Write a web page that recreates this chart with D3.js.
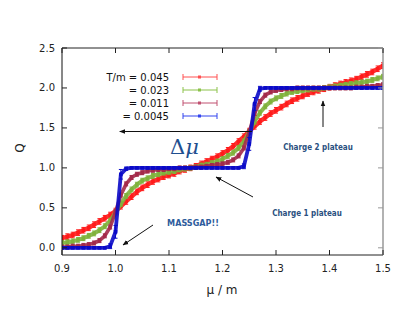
<!DOCTYPE html>
<html><head><meta charset="utf-8">
<script src="https://cdn.jsdelivr.net/npm/d3@7"></script>
<style>html,body{margin:0;padding:0;background:#fff;}svg{display:block;}</style>
</head><body>
<svg id="c" width="415" height="312"></svg>
<script>
// ---- data ----
const mu = d3.range(61).map(i => +(0.90 + i * 0.01).toFixed(2));
const qRed = [0.12,0.14,0.16,0.19,0.22,0.25,0.29,0.33,0.37,0.41,
  0.46,0.52,0.58,0.64,0.70,0.75,0.79,0.83,0.86,0.89,
  0.91,0.93,0.96,0.98,1.00,1.02,1.05,1.08,1.11,1.14,
  1.18,1.22,1.27,1.33,1.39,1.46,1.52,1.58,1.63,1.68,
  1.72,1.76,1.80,1.84,1.87,1.90,1.93,1.95,1.97,1.99,
  2.01,2.03,2.05,2.07,2.09,2.11,2.14,2.17,2.20,2.24,2.28];
const qGreen = [0.06,0.07,0.08,0.10,0.12,0.15,0.18,0.22,0.27,0.34,
  0.44,0.55,0.65,0.73,0.79,0.84,0.87,0.90,0.92,0.94,
  0.95,0.96,0.98,0.99,1.00,1.01,1.03,1.04,1.06,1.08,
  1.11,1.15,1.19,1.25,1.33,1.45,1.58,1.69,1.77,1.83,
  1.87,1.90,1.93,1.95,1.96,1.97,1.98,1.99,1.99,2.00,
  2.01,2.02,2.03,2.04,2.05,2.06,2.07,2.08,2.10,2.12,2.14];
const qMaroon = [0.01,0.01,0.02,0.02,0.03,0.04,0.06,0.09,0.15,0.26,
  0.45,0.66,0.80,0.88,0.92,0.94,0.96,0.97,0.98,0.98,
  0.99,0.99,1.00,1.00,1.00,1.01,1.01,1.02,1.03,1.04,
  1.05,1.07,1.10,1.15,1.25,1.45,1.68,1.83,1.91,1.95,
  1.97,1.98,1.99,1.99,2.00,2.00,2.00,2.00,2.00,2.00,
  2.00,2.00,2.00,2.00,2.00,2.01,2.01,2.02,2.02,2.03,2.04];
const qBlue = [0.00,0.00,0.00,0.00,0.00,0.00,0.00,0.00,0.00,0.02,
  0.20,0.92,0.99,1.00,1.00,1.00,1.00,1.00,1.00,1.00,
  1.00,1.00,1.00,1.00,1.00,1.00,1.00,1.00,1.00,1.00,
  1.00,1.00,1.00,1.00,1.02,1.30,1.80,1.99,2.00,2.00,
  2.00,2.00,2.00,2.00,2.00,2.00,2.00,2.00,2.00,2.00,
  2.00,2.00,2.00,2.00,2.00,2.00,2.00,2.00,2.00,2.00,2.00];
const errRed = 0.035, errGreen = 0.03, errMaroon = 0.025;
const errBlue = [0.01,0.01,0.01,0.01,0.01,0.01,0.01,0.01,0.01,0.03,
  0.08,0.06,0.02,0.01,0.01,0.01,0.01,0.01,0.01,0.01,
  0.01,0.01,0.01,0.01,0.01,0.01,0.01,0.01,0.01,0.01,
  0.01,0.01,0.01,0.01,0.03,0.08,0.08,0.03,0.01,0.01,
  0.01,0.01,0.01,0.01,0.01,0.01,0.01,0.01,0.01,0.01,
  0.01,0.01,0.01,0.01,0.01,0.01,0.01,0.01,0.01,0.01,0.01];
const seriesLabels = ["T/m = 0.045", "= 0.023", "= 0.011", "= 0.0045"];
const xTicks = [0.9,1.0,1.1,1.2,1.3,1.4,1.5];
const yTicks = [0.0,0.5,1.0,1.5,2.0,2.5];

// ---- setup ----
const svg = d3.select("#c");
const L = 62, R = 383, T = 48, B = 255;
const x = d3.scaleLinear().domain([0.9,1.5]).range([L,R]);
const y = d3.scaleLinear().domain([-0.09,2.5]).range([B,T]);

const series = [
  {q:qRed, err:mu.map(()=>errRed), color:"#ff1a1a", leg:"#ff5050", w:4.4},
  {q:qGreen, err:mu.map(()=>errGreen), color:"#7fb23c", leg:"#8cc24a", w:4.0},
  {q:qMaroon, err:mu.map(()=>errMaroon), color:"#a32a4a", leg:"#c05070", w:3.6},
  {q:qBlue, err:errBlue, color:"#0a0ac8", leg:"#3344ee", w:3.8}
];

const clip = svg.append("clipPath").attr("id","pc").append("rect")
  .attr("x",L).attr("y",T).attr("width",R-L).attr("height",B-T);
const plot = svg.append("g").attr("clip-path","url(#pc)");

const line = d3.line().x((d,i)=>x(mu[i])).y(d=>y(d));
series.forEach(s => {
  const g = plot.append("g");
  g.append("path").attr("d", line(s.q)).attr("fill","none")
    .attr("stroke", s.color).attr("stroke-width", s.w).attr("stroke-linejoin","round").attr("opacity",0.9);
  s.q.forEach((v,i) => {
    const cx = x(mu[i]), e = s.err[i];
    g.append("line").attr("x1",cx).attr("x2",cx).attr("y1",y(v-e)).attr("y2",y(v+e))
      .attr("stroke",s.color).attr("stroke-width",1);
    [v-e, v+e].forEach(w => g.append("line").attr("x1",cx-2).attr("x2",cx+2)
      .attr("y1",y(w)).attr("y2",y(w)).attr("stroke",s.color).attr("stroke-width",1));
    g.append("rect").attr("x",cx-1.8).attr("y",y(v)-1.8).attr("width",3.6).attr("height",3.6)
      .attr("fill",s.color);
  });
});

// ---- axes / frame ----
const ax = svg.append("g").attr("font-family","DejaVu Sans").attr("font-size",10).attr("fill","#222");
ax.append("line").attr("x1",L).attr("x2",R).attr("y1",T).attr("y2",T).attr("stroke","#222");
ax.append("line").attr("x1",L).attr("x2",R).attr("y1",B).attr("y2",B).attr("stroke","#222");
ax.append("line").attr("x1",L).attr("x2",L).attr("y1",T).attr("y2",B).attr("stroke","#111");
ax.append("line").attr("x1",R).attr("x2",R).attr("y1",T).attr("y2",B).attr("stroke","#999").attr("stroke-width",1.5);
xTicks.forEach(t => {
  ax.append("line").attr("x1",x(t)).attr("x2",x(t)).attr("y1",B).attr("y2",B-5).attr("stroke","#222");
  ax.append("line").attr("x1",x(t)).attr("x2",x(t)).attr("y1",T).attr("y2",T+5).attr("stroke","#222");
  ax.append("text").attr("x",x(t)).attr("y",272).attr("text-anchor","middle").text(t.toFixed(1));
});
yTicks.forEach(t => {
  ax.append("line").attr("x1",L).attr("x2",L+5).attr("y1",y(t)).attr("y2",y(t)).attr("stroke","#222");
  ax.append("line").attr("x1",R).attr("x2",R-5).attr("y1",y(t)).attr("y2",y(t)).attr("stroke","#999");
  ax.append("text").attr("x",55).attr("y",y(t)+3.5).attr("text-anchor","end").text(t.toFixed(1));
});
ax.append("text").attr("x",222).attr("y",294).attr("text-anchor","middle").attr("font-size",12).text("μ / m");
ax.append("text").attr("transform","translate(24,148) rotate(-90)").attr("text-anchor","middle").attr("font-size",12).text("Q");

// ---- legend ----
const lg = svg.append("g").attr("font-family","DejaVu Sans").attr("font-size",10).attr("fill","#111");
series.forEach((s,i) => {
  const yy = 77 + i*13;
  lg.append("text").attr("x",169).attr("y",yy+3.5).attr("text-anchor","end").text(seriesLabels[i]);
  lg.append("line").attr("x1",183).attr("x2",217).attr("y1",yy).attr("y2",yy).attr("stroke",s.leg);
  [183,217].forEach(xx => lg.append("line").attr("x1",xx).attr("x2",xx).attr("y1",yy-3).attr("y2",yy+3).attr("stroke",s.leg));
  lg.append("rect").attr("x",198).attr("y",yy-1.5).attr("width",3).attr("height",3).attr("fill",s.leg);
});

// ---- annotations ----
const an = svg.append("g");
svg.append("defs").append("marker").attr("id","ah").attr("viewBox","0 0 10 10")
  .attr("refX",9).attr("refY",5).attr("markerWidth",6).attr("markerHeight",6).attr("orient","auto")
  .append("path").attr("d","M0,1 L10,5 L0,9 Z").attr("fill","#111");
function arrow(x1,y1,x2,y2){
  an.append("line").attr("x1",x1).attr("y1",y1).attr("x2",x2).attr("y2",y2)
    .attr("stroke","#111").attr("stroke-width",1).attr("marker-end","url(#ah)");
}
arrow(x(1.255), 131.5, x(1.008), 131.5);
arrow(253, 197, 216, 177);
arrow(323, 127, 323, 101);
arrow(153, 225, 123, 245);
const dm = an.append("text").attr("x",170).attr("y",154).attr("font-family","DejaVu Serif")
  .attr("font-size",21).attr("fill","#1f4f8f");
dm.append("tspan").text("Δ");
dm.append("tspan").attr("font-style","italic").text("μ");
const af = {family:"DejaVu Sans Condensed", weight:"bold"};
an.append("text").attr("x",307).attr("y",216).attr("text-anchor","middle").attr("font-family",af.family)
  .attr("font-weight",af.weight).attr("font-size",8).attr("fill","#2a5080").text("Charge 1 plateau");
an.append("text").attr("x",318).attr("y",150).attr("text-anchor","middle").attr("font-family",af.family)
  .attr("font-weight",af.weight).attr("font-size",8).attr("fill","#2a5080").text("Charge 2 plateau");
an.append("text").attr("x",193).attr("y",226).attr("text-anchor","middle").attr("font-family",af.family)
  .attr("font-weight",af.weight).attr("font-size",9).attr("fill","#2e5c9c").text("MASSGAP!!");
</script>
</body></html>
